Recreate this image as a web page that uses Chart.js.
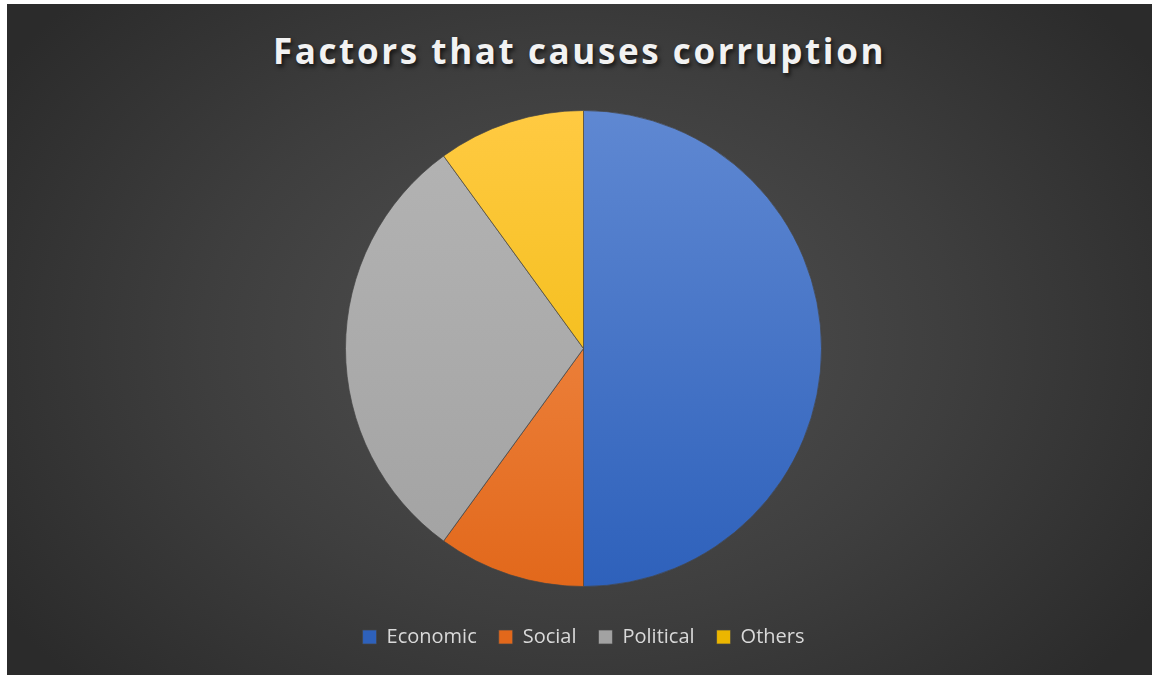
<!DOCTYPE html>
<html>
<head>
<meta charset="utf-8">
<script src="https://cdn.jsdelivr.net/npm/chart.js@4/dist/chart.umd.min.js"></script>
<style>
  html, body { margin: 0; padding: 0; background: #fff; }
  #frame {
    position: absolute; left: 7px; top: 4px; width: 1145px; height: 671px;
    background: radial-gradient(ellipse 60% 75% at 50% 50%, #525252 0%, #3e3e3e 55%, #2b2b2b 100%);
    overflow: hidden;
  }
  #title {
    position: absolute; left: 0; right: 0; top: 23px; text-align: center;
    font-family: "Open Sans", sans-serif; font-weight: 700; font-size: 35px;
    letter-spacing: 2.6px; color: #f2f2f2;
    text-shadow: 2px 3px 4px rgba(0,0,0,0.65);
  }
  #wrap { position: absolute; left: 0; top: 0; width: 1145px; height: 671px; }
</style>
</head>
<body>
<div id="frame">
  <div id="title">Factors that causes corruption</div>
  <div id="wrap"><canvas id="pie"></canvas></div>
</div>
<script>
// data
const categories = ['Economic', 'Social', 'Political', 'Others'];
const shares = [50, 10, 30, 10];

// Office-style palette, light at top -> dark at bottom
const topColors = ['#5f88d2', '#f59556', '#b4b4b4', '#ffca42'];
const bottomColors = ['#2e61bb', '#e2681b', '#a2a2a2', '#ecb600'];
const flatColors = ['#4472c4', '#ed7d31', '#a5a5a5', '#ffc000'];

function sliceFill(ctx) {
  const area = ctx.chart.chartArea;
  const i = ctx.dataIndex;
  if (!area) return flatColors[i];
  const cy = (area.top + area.bottom) / 2;
  const g = ctx.chart.ctx.createLinearGradient(0, cy - 238, 0, cy + 238);
  g.addColorStop(0, topColors[i]);
  g.addColorStop(1, bottomColors[i]);
  return g;
}

new Chart(document.getElementById('pie'), {
  type: 'pie',
  data: {
    labels: categories,
    datasets: [{
      data: shares,
      backgroundColor: sliceFill,
      borderColor: 'rgba(70,70,70,0.7)',
      borderWidth: 1,
      radius: 238
    }]
  },
  options: {
    responsive: true,
    maintainAspectRatio: false,
    animation: false,
    layout: { padding: { top: 88, bottom: 18, left: 8, right: 0 } },
    plugins: {
      title: { display: false },
      tooltip: { enabled: false },
      legend: {
        position: 'bottom',
        labels: {
          boxWidth: 14,
          boxHeight: 14,
          padding: 22,
          color: '#d9d9d9',
          font: { family: '"Open Sans", sans-serif', size: 20 }
        }
      }
    }
  }
});
</script>
</body>
</html>
